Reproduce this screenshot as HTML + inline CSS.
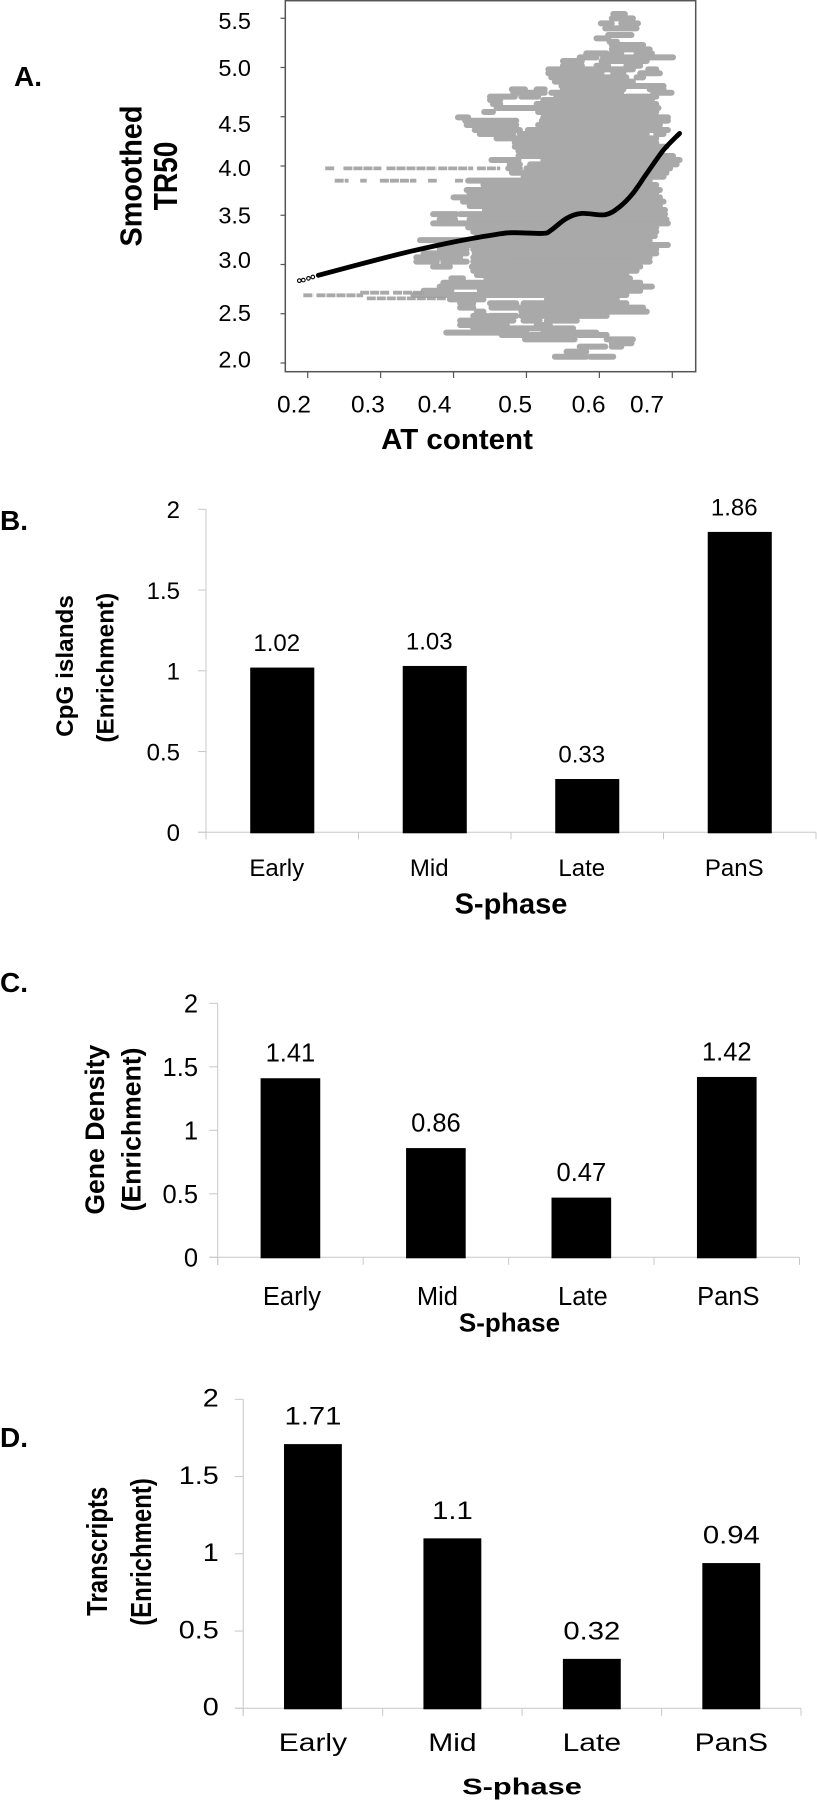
<!DOCTYPE html>
<html lang="en">
<head>
<meta charset="utf-8">
<title>Replication timing panels</title>
<style>
html,body{margin:0;padding:0;background:#fff;}
svg{display:block;}
text{font-family:"Liberation Sans",Arial,sans-serif;fill:#000;}
.b{font-weight:bold;}
</style>
</head>
<body>
<svg id="figure" xmlns="http://www.w3.org/2000/svg" width="817" height="1800" viewBox="0 0 817 1800">
  <rect x="0" y="0" width="817" height="1800" fill="#fff"/>
  <text class="b" x="14" y="86" font-size="28">A.</text>
  <text class="b" x="0" y="530" font-size="28">B.</text>
  <text class="b" x="0" y="992" font-size="28">C.</text>
  <text class="b" x="0" y="1447" font-size="28">D.</text>

  <g id="panelA"></g>
  <g id="panelB"></g>
  <g id="panelC"></g>
  <g id="panelD"></g>
</svg>
<script>
// ---------- Panel A data (AT content vs smoothed TR50) ----------
var scatterXTicks = [0.2, 0.3, 0.4, 0.5, 0.6, 0.7];
var scatterYTicks = [2.0, 2.5, 3.0, 3.5, 4.0, 4.5, 5.0, 5.5];

// Dense point cloud, read as horizontal runs: TR50 level and [AT start, AT end, ...]
var cloudTR = [5.543,5.499,5.448,5.397,5.330,5.296,5.262,5.228,5.184,5.144,5.103,5.066,5.018,4.981,4.941,4.900,4.856,4.812,4.778,4.744,4.704,4.670,4.629,4.589,4.548,4.494,4.460,4.416,4.365,4.325,4.281,4.237,4.196,4.152,4.101,4.061,4.017,3.976,3.932,3.891,3.851,3.807,3.756,3.722,3.682,3.638,3.594,3.553,3.512,3.458,3.418,3.377,3.333,3.289,3.248,3.198,3.154,3.113,3.072,3.029,2.978,2.937,2.893,2.859,2.815,2.775,2.734,2.690,2.646,2.606,2.562,2.521,2.479,2.430,2.386,2.352,2.308,2.284,2.240,2.200,2.166,2.115,2.064];
var cloudAT = [
[.619,.635],[.617,.646],[.602,.617,.630,.653],[.608,.651],[.612,.644],[.596,.612],[.614,.624],[.617,.660],[.617,.669],
[.582,.610,.617,.630,.651,.672],[.573,.596,.605,.701],[.550,.576,.603,.665],[.550,.576,.596,.612,.637,.656],
[.530,.646,.667,.678],[.530,.603,.619,.633,.656,.683],[.534,.637,.651,.660],[.539,.646],[.548,.688],
[.480,.498,.514,.525,.550,.633,.669,.688],[.482,.525,.534,.630,.674,.699],[.450,.484,.493,.516,.541,.633,.637,.678],
[.450,.464,.523,.633,.637,.672],[.454,.464,.514,.678],[.459,.681],[.442,.454,.516,.678],[.406,.420,.523,.694],
[.416,.486,.521,.694],[.418,.486,.516,.683],[.429,.491,.502,.694],[.436,.482,.491,.665,.678,.688],[.459,.678],
[.484,.678],[.484,.692],[.489,.683],[.489,.701],[.452,.489,.523,.710],[.477,.491,.505,.706],[.475,.491,.500,.697],
[.480,.491,.496,.692],[.496,.688],[.420,.441,.443,.669],[.441,.678],[.418,.683],[.422,.678],[.400,.683],[.413,.688],
[.422,.683],[.443,.690],[.372,.404,.409,.690],[.381,.402,.422,.692],[.372,.694],[.420,.678],[.427,.678],[.432,.676],
[.354,.669],[.390,.694],[.381,.418,.427,.678],[.359,.418,.429,.678],[.349,.409,.427,.669],[.349,.377,.386,.418,.427,.669],
[.372,.395,.425,.656],[.427,.651],[.432,.637],[.397,.413,.445,.642],[.386,.656],[.381,.672],[.359,.397,.436,.486,.489,.656],
[.345,.523,.528,.637],[.395,.441,.528,.624],[.409,.427,.450,.486,.496,.637],[.409,.427,.452,.491,.491,.660],
[.432,.441,.493,.665],[.427,.445,.450,.486,.493,.610],[.409,.448,.452,.482,.496,.518,.528,.569],[.409,.473,.514,.532],
[.427,.450,.452,.518,.523,.564],[.390,.500,.523,.564,.569,.596],[.466,.500,.505,.564,.571,.610],[.498,.566,.610,.646],
[.617,.644],[.573,.608,.617,.630],[.555,.582],[.539,.582,.587,.619]
];

// Sparse low-density tails
var tailTR = [3.976,3.851,2.714,2.687,2.656];
var tailAT = [
[.224,.237,.249,.301,.308,.377,.379,.427,.432,.464],
[.237,.256,.272,.281,.299,.349,.365,.377,.402,.413],
[.272,.313,.317,.359],
[.194,.208,.212,.276],
[.281,.390]
];

// Smoothed trend line
var trendAT = [.2146,.299,.345,.400,.459,.482,.523,.534,.555,.576,.608,.628,.646,.665,.688,.710];
var trendTR = [2.890,3.056,3.140,3.228,3.306,3.323,3.316,3.350,3.468,3.519,3.506,3.587,3.722,3.925,4.162,4.331];
var trendStartAT = [.1885,.194,.201,.207];
var trendStartTR = [2.836,2.842,2.859,2.873];

// ---------- Bar panel data ----------
var categories = ["Early", "Mid", "Late", "PanS"];
var barTickValues = [0, 0.5, 1, 1.5, 2];
var barTickLabels = ["0", "0.5", "1", "1.5", "2"];
var cpgValues = [1.02, 1.03, 0.33, 1.86];
var geneValues = [1.41, 0.86, 0.47, 1.42];
var transcriptValues = [1.71, 1.1, 0.32, 0.94];

// ---------- Drawing ----------
var NS = "http://www.w3.org/2000/svg";
function make(parent, tag, attrs, name) {
  var el = document.createElementNS(NS, tag);
  for (var k in attrs) { el.setAttribute(k, attrs[k]); }
  
  
  parent.appendChild(el);
  return el;
}
function label(parent, str, x, y, size, anchor, sx, name, bold, rotate) {
  var t = "translate(" + x + "," + y + ")" + (rotate ? " rotate(-90)" : "") + " scale(" + sx + ",1)";
  var el = make(parent, "text", {transform: t, "font-size": size, "text-anchor": anchor}, name);
  if (bold) { el.setAttribute("class", "b"); }
  el.textContent = str;
  return el;
}
// Smooth curve through screen points (Catmull-Rom to cubic Bezier)
function smoothPath(p) {
  var d = "M" + p[0][0].toFixed(1) + "," + p[0][1].toFixed(1);
  for (var i = 0; i < p.length - 1; i++) {
    var a = p[Math.max(i - 1, 0)], b = p[i], c = p[i + 1], e = p[Math.min(i + 2, p.length - 1)];
    d += " C" + (b[0] + (c[0] - a[0]) / 6).toFixed(1) + "," + (b[1] + (c[1] - a[1]) / 6).toFixed(1) +
         " " + (c[0] - (e[0] - b[0]) / 6).toFixed(1) + "," + (c[1] - (e[1] - b[1]) / 6).toFixed(1) +
         " " + c[0].toFixed(1) + "," + c[1].toFixed(1);
  }
  return d;
}

// Panel A
(function () {
  var g = document.getElementById("panelA");
  function px(at) { return 307.7 + (at - 0.2) * 729.2; }
  function py(tr) { return 363 - (tr - 2.0) * 98.5; }
  var xNudge = [-13.7, -12.7, -19, -11.3, -10.8, -25.3];
  var yNudge = [4.7, 7, 3.4, 8, 10, 15, 8.3, 10.7];
  var cloud = make(g, "g", {stroke: "#a9a9a9", "stroke-width": 6, "stroke-linecap": "round", fill: "none"}, "point-cloud");
  cloudTR.forEach(function (tr, i) {
    var runs = cloudAT[i];
    for (var j = 0; j < runs.length; j += 2) {
      make(cloud, "line", {x1: px(runs[j]), x2: px(runs[j + 1]), y1: py(tr), y2: py(tr)}, "point-run");
    }
  });
  var tails = make(g, "g", {stroke: "#a0a0a0", "stroke-width": 3.8, "stroke-dasharray": "9 1", fill: "none", opacity: 0.9}, "sparse-points");
  tailTR.forEach(function (tr, i) {
    var runs = tailAT[i];
    for (var j = 0; j < runs.length; j += 2) {
      make(tails, "line", {x1: px(runs[j]), x2: px(runs[j + 1]), y1: py(tr), y2: py(tr)}, "sparse-run");
    }
  });
  var pts = trendAT.map(function (a, i) { return [px(a), py(trendTR[i])]; });
  make(g, "path", {d: smoothPath(pts), fill: "none", stroke: "#000", "stroke-width": 4.8, "stroke-linejoin": "round", "stroke-linecap": "round"}, "smoothed-trend-line");
  trendStartAT.forEach(function (a, i) {
    make(g, "circle", {cx: px(a), cy: py(trendStartTR[i]), r: 1.8, fill: "none", stroke: "#000", "stroke-width": 1.1}, "trend-start-point");
  });
  make(g, "rect", {x: 285.3, y: 0.7, width: 410.4, height: 371, fill: "none", stroke: "#555", "stroke-width": 1.5}, "plot-frame");
  scatterYTicks.forEach(function (v, i) {
    make(g, "line", {x1: 280.5, x2: 285, y1: py(v), y2: py(v), stroke: "#555", "stroke-width": 1.2}, "y-tick");
    label(g, v.toFixed(1), 251, py(v) + yNudge[i], 23.5, "end", 1, "y-tick-label", false, false);
  });
  scatterXTicks.forEach(function (v, i) {
    make(g, "line", {x1: px(v), x2: px(v), y1: 372, y2: 378, stroke: "#555", "stroke-width": 1.2}, "x-tick");
    label(g, v.toFixed(1), px(v) + xNudge[i], 412.3, 24.4, "middle", 1, "x-tick-label", false, false);
  });
  label(g, "AT content", 457, 449, 29, "middle", 1.017, "x-axis-title", true, false);
  label(g, "Smoothed", 141.5, 176, 31, "middle", 0.93, "y-axis-title-line-1", true, true);
  label(g, "TR50", 177, 176, 33, "middle", 0.85, "y-axis-title-line-2", true, true);
})();

// Bar panels
function barPanel(id, values, c) {
  var g = document.getElementById(id);
  function px(i) { return c.left + (c.right - c.left) * (i + 0.5) / categories.length; }
  function py(v) { return c.base - v * (c.base - c.top) / 2; }
  var bw = (c.right - c.left) / categories.length * c.barFrac;
  var axis = "#c8c8c8";
  make(g, "line", {x1: c.left, x2: c.left, y1: c.top, y2: c.base + c.tick, stroke: axis, "stroke-width": 1}, "y-axis-line");
  make(g, "line", {x1: c.left - c.tick - 1, x2: c.right, y1: c.base, y2: c.base, stroke: axis, "stroke-width": 1}, "x-axis-line");
  barTickValues.forEach(function (v, i) {
    make(g, "line", {x1: c.left - c.tick - 1, x2: c.left, y1: py(v), y2: py(v), stroke: axis, "stroke-width": 1}, "y-tick");
    label(g, barTickLabels[i], c.tickRight, py(v) + c.tickDy, c.fs, "end", c.tickSx, "y-tick-label", false, false);
  });
  for (var k = 0; k <= categories.length; k++) {
    var tx = c.left + (c.right - c.left) * k / categories.length;
    make(g, "line", {x1: tx, x2: tx, y1: c.base, y2: c.base + c.tick, stroke: axis, "stroke-width": 1}, "x-tick");
  }
  categories.forEach(function (cat, i) {
    var x = px(i);
    var bar = make(g, "rect", {x: x - bw / 2, y: py(values[i]), width: bw, height: c.base + 1 - py(values[i]), fill: "#000"}, "bar-" + cat.toLowerCase());
    bar.setAttribute("data-value", values[i]);
    label(g, String(values[i]), x + c.labelDx, py(values[i]) - c.valueGap, c.fs, "middle", c.valueSx, "value-label-" + cat.toLowerCase(), false, false);
    label(g, cat, x + c.labelDx + c.catDx, c.catY, c.fs, "middle", c.catSx, "category-label-" + cat.toLowerCase(), false, false);
  });
  label(g, "S-phase", c.xTitle[0], c.xTitle[1], c.xTitle[2], "middle", c.xTitle[3], "x-axis-title", true, false);
  label(g, c.y1[0], c.y1[1], c.y1[2], c.yTitleFs, "middle", c.yTitleSx, "y-axis-title-line-1", true, true);
  label(g, "(Enrichment)", c.y2[0], c.y2[1], c.yTitleFs, "middle", c.yTitleSx, "y-axis-title-line-2", true, true);
}

barPanel("panelB", cpgValues, {
  left: 206, right: 816, top: 509.3, base: 832.3, tick: 7, barFrac: 0.42, fs: 24,
  tickRight: 180, tickDy: 8.7, tickSx: 1, valueSx: 1, catSx: 1, labelDx: -5.5, catDx: 0, valueGap: 16.5, catY: 876,
  xTitle: [511, 913.3, 29, 1], y1: ["CpG islands", 73, 666], y2: [113.5, 667.7], yTitleFs: 24.3, yTitleSx: 1
});
barPanel("panelC", geneValues, {
  left: 217.7, right: 799.5, top: 1003.3, base: 1257.3, tick: 7.5, barFrac: 0.41, fs: 25.5,
  tickRight: 198, tickDy: 9.3, tickSx: 1, valueSx: 1, catSx: 1, labelDx: 0, catDx: 1.5, valueGap: 16.5, catY: 1305,
  xTitle: [509.5, 1331.7, 26, 1], y1: ["Gene Density", 104, 1129.7], y2: [140.6, 1129.5], yTitleFs: 26.6, yTitleSx: 1
});
barPanel("panelD", transcriptValues, {
  left: 243.2, right: 801, top: 1399.3, base: 1708.3, tick: 7.5, barFrac: 0.415, fs: 25,
  tickRight: 218.7, tickDy: 7.4, tickSx: 1.15, valueSx: 1.17, catSx: 1.2, labelDx: 0, catDx: 0, valueGap: 19.5, catY: 1751,
  xTitle: [522, 1794.3, 23, 1.34], y1: ["Transcripts", 106.8, 1551.3], y2: [151, 1552], yTitleFs: 29, yTitleSx: 0.826
});
</script>
</body>
</html>
